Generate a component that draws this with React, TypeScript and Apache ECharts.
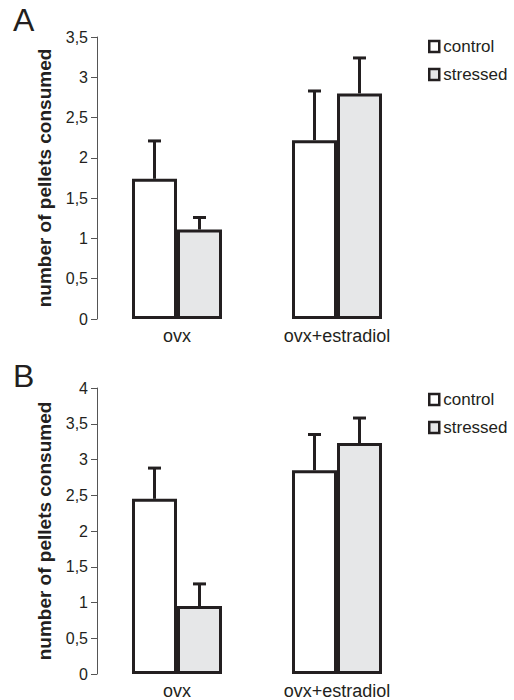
import React, { useEffect, useRef } from "react";
import * as echarts from "echarts";

const categories = ["ovx", "ovx+estradiol"];
const seriesNames = ["control", "stressed"];

// Panel A
const aControl = [1.74, 2.22];
const aControlSem = [0.47, 0.61];
const aStressed = [1.11, 2.8];
const aStressedSem = [0.15, 0.44];

// Panel B
const bControl = [2.45, 2.85];
const bControlSem = [0.43, 0.5];
const bStressed = [0.95, 3.23];
const bStressedSem = [0.31, 0.35];

const aMax = 3.5;
const bMax = 4;
const tickStep = 0.5;

const FONT = "'Liberation Sans', Arial, sans-serif";
const INK = "#231f20";
const BAR_W = 45;
const CAP = 13;

function errSeries(name: string, gridIdx: number, vals: number[], sems: number[], offset: number) {
  return {
    name: name + "-err",
    type: "custom",
    xAxisIndex: gridIdx,
    yAxisIndex: gridIdx,
    z: 5,
    silent: true,
    encode: { x: 0, y: 1 },
    data: categories.map((_, i) => [i, vals[i], sems[i]]),
    renderItem: (params: any, api: any) => {
      const cat = api.value(0);
      const v = api.value(1);
      const e = api.value(2);
      const base = api.coord([cat, v]);
      const top = api.coord([cat, v + e]);
      const x = base[0] + offset;
      const style = { stroke: INK, lineWidth: 3 };
      return {
        type: "group",
        children: [
          { type: "line", shape: { x1: x, y1: base[1], x2: x, y2: top[1] }, style },
          { type: "line", shape: { x1: x - CAP / 2, y1: top[1], x2: x + CAP / 2, y2: top[1] }, style },
        ],
      };
    },
  };
}

function barSeries(name: string, gridIdx: number, vals: number[], color: string) {
  return {
    name,
    type: "bar",
    xAxisIndex: gridIdx,
    yAxisIndex: gridIdx,
    barWidth: BAR_W,
    barGap: "0%",
    itemStyle: { color, borderColor: INK, borderWidth: 3 },
    data: vals,
  };
}

function yAxis(gridIdx: number, max: number) {
  return {
    type: "value",
    gridIndex: gridIdx,
    min: 0,
    max,
    interval: tickStep,
    name: "number of pellets consumed",
    nameLocation: "middle",
    nameGap: 43,
    nameTextStyle: { fontFamily: FONT, fontSize: 19, fontWeight: "bold", color: INK },
    axisLine: { show: true, lineStyle: { color: "#555", width: 1 } },
    axisTick: { show: true, length: 6, lineStyle: { color: "#555", width: 1 } },
    splitLine: { show: false },
    axisLabel: {
      fontFamily: FONT,
      fontSize: 16,
      color: INK,
      margin: 9,
      formatter: (v: number) => String(v).replace(".", ","),
    },
  };
}

function xAxis(gridIdx: number) {
  return {
    type: "category",
    gridIndex: gridIdx,
    data: categories,
    axisLine: { show: false },
    axisTick: { show: false },
    axisLabel: { fontFamily: FONT, fontSize: 18, color: INK, margin: 8, interval: 0 },
  };
}

function legend(top: number) {
  return {
    data: seriesNames,
    orient: "vertical",
    left: 423,
    top,
    itemWidth: 10,
    itemHeight: 11,
    itemGap: 11,
    icon: "rect",
    selectedMode: false,
    itemStyle: { borderColor: INK, borderWidth: 2.5 },
    textStyle: { fontFamily: FONT, fontSize: 17, color: INK, padding: [0, 0, 0, -1] },
  };
}

export default function App() {
  const ref = useRef<HTMLDivElement>(null);
  useEffect(() => {
    if (!ref.current) return;
    const chart = echarts.init(ref.current, undefined, { renderer: "svg" });
    chart.setOption({
      animation: false,
      backgroundColor: "#ffffff",
      grid: [
        { left: 97, top: 37, width: 320, height: 282 },
        { left: 97, top: 388, width: 320, height: 286 },
      ],
      xAxis: [xAxis(0), xAxis(1)],
      yAxis: [yAxis(0, aMax), yAxis(1, bMax)],
      legend: [legend(33), legend(386)],
      graphic: [
        { type: "text", left: 13, top: 4, style: { text: "A", fontFamily: FONT, fontSize: 32, fill: INK } },
        { type: "text", left: 13, top: 360, style: { text: "B", fontFamily: FONT, fontSize: 32, fill: INK } },
      ],
      series: [
        barSeries("control", 0, aControl, "#ffffff"),
        barSeries("stressed", 0, aStressed, "#e6e7e8"),
        errSeries("control", 0, aControl, aControlSem, -BAR_W / 2),
        errSeries("stressed", 0, aStressed, aStressedSem, BAR_W / 2),
        barSeries("control", 1, bControl, "#ffffff"),
        barSeries("stressed", 1, bStressed, "#e6e7e8"),
        errSeries("control", 1, bControl, bControlSem, -BAR_W / 2),
        errSeries("stressed", 1, bStressed, bStressedSem, BAR_W / 2),
      ],
    });
    return () => chart.dispose();
  }, []);
  return (
    <div
      ref={ref}
      style={{ position: "fixed", left: 0, top: 0, width: 514, height: 700, background: "#fff" }}
    />
  );
}
